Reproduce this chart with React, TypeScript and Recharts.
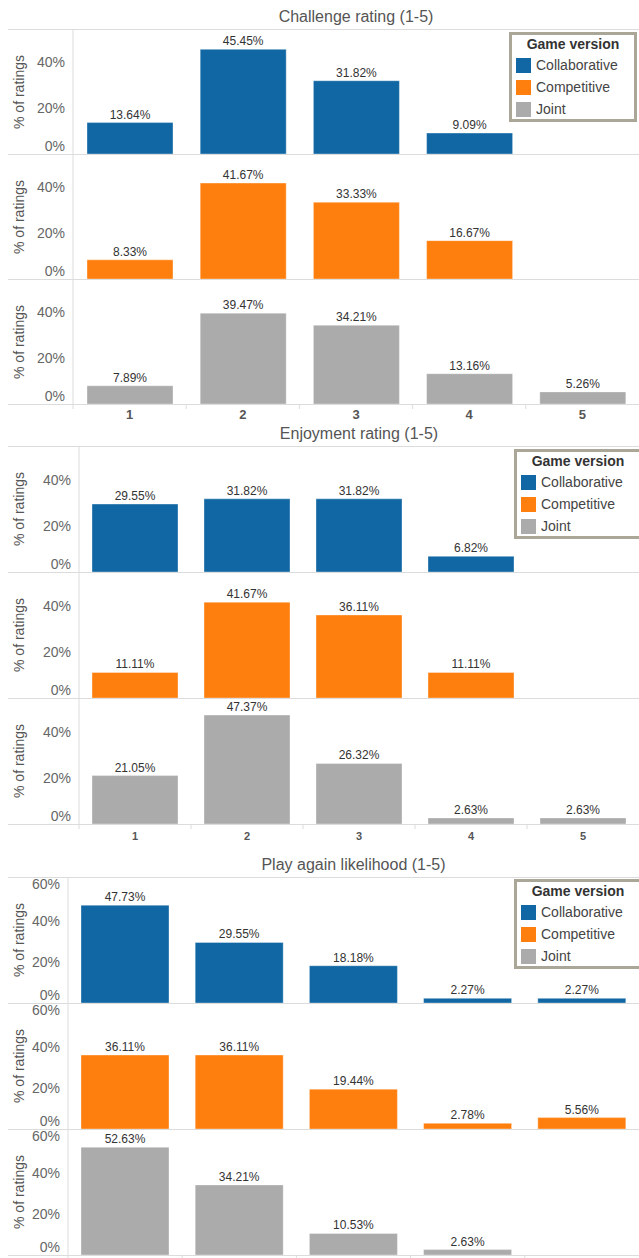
import { Bar, BarChart, LabelList, XAxis, YAxis } from "recharts";

const categories = ["1", "2", "3", "4", "5"];
const seriesNames = ["Collaborative", "Competitive", "Joint"];
const seriesColors = ["#1067a3", "#ff7f0e", "#ababab"];

// Challenge rating (1-5)
const challengeCollab = [13.64, 45.45, 31.82, 9.09, null];
const challengeComp = [8.33, 41.67, 33.33, 16.67, null];
const challengeJoint = [7.89, 39.47, 34.21, 13.16, 5.26];

// Enjoyment rating (1-5)
const enjoyCollab = [29.55, 31.82, 31.82, 6.82, null];
const enjoyComp = [11.11, 41.67, 36.11, 11.11, null];
const enjoyJoint = [21.05, 47.37, 26.32, 2.63, 2.63];

// Play again likelihood (1-5)
const playCollab = [47.73, 29.55, 18.18, 2.27, 2.27];
const playComp = [36.11, 36.11, 19.44, 2.78, 5.56];
const playJoint = [52.63, 34.21, 10.53, 2.63, null];

const ticks50 = [0, 20, 40];
const ticks60 = [0, 20, 40, 60];

const FONT = "'Liberation Sans', Arial, sans-serif";
const RIGHT = 639;
const LEFT = 8;
const GRID = "#dcdcdc";

type XCfg = { height: number; labelDy: number; fontSize: number; labels: boolean };

type PanelProps = {
  values: (number | null)[];
  color: string;
  height: number;
  axisX: number;
  domainMax: number;
  ticks: number[];
  barSize: number;
  xAxis?: XCfg;
};

function Panel({ values, color, height, axisX, domainMax, ticks, barSize, xAxis }: PanelProps) {
  const data = categories.map((c, i) => ({ rating: c, pct: values[i] }));
  const bw = (RIGHT - axisX) / categories.length;
  const chartH = height + (xAxis ? xAxis.height : 0);

  // clamp edge labels inside the panel, like the original
  const yTick = (p: any) => {
    const y = Math.max(7, Math.min(p.y, height - 8));
    return (
      <text x={p.x} y={y} dy="0.35em" textAnchor="end" fontSize={14} fill="#666" fontFamily={FONT}>
        {p.payload.value}%
      </text>
    );
  };

  const xTick = (p: any) => {
    const bx = p.x - bw / 2;
    return (
      <g>
        <line x1={bx} x2={bx} y1={p.y} y2={p.y + 5} stroke={GRID} />
        {xAxis && xAxis.labels ? (
          <text x={p.x} y={p.y + xAxis.labelDy} textAnchor="middle" fontSize={xAxis.fontSize} fontWeight="bold" fill="#555" fontFamily={FONT}>
            {p.payload.value}
          </text>
        ) : null}
      </g>
    );
  };

  return (
    <BarChart width={RIGHT - LEFT} height={chartH} data={data} margin={{ top: 0, right: 0, bottom: 0, left: 0 }}>
      <XAxis
        dataKey="rating"
        hide={!xAxis}
        height={xAxis ? xAxis.height : 0}
        axisLine={false}
        tickLine={false}
        tickSize={0}
        tickMargin={0}
        interval={0}
        tick={xTick}
      />
      <YAxis
        width={axisX - LEFT}
        domain={[0, domainMax]}
        ticks={ticks}
        interval={0}
        allowDataOverflow
        axisLine={{ stroke: GRID }}
        tickLine={false}
        tickSize={0}
        tickMargin={8}
        tick={yTick}
      />
      <Bar dataKey="pct" fill={color} stroke="#ffffff" strokeOpacity={0.35} barSize={barSize} isAnimationActive={false}>
        <LabelList
          dataKey="pct"
          position="top"
          offset={4}
          fontSize={12}
          fill="#333"
          fontFamily={FONT}
          formatter={(v: any) => (v == null ? "" : `${Number(v).toFixed(2)}%`)}
        />
      </Bar>
    </BarChart>
  );
}

function GameLegend({ x, y }: { x: number; y: number }) {
  return (
    <div
      style={{
        position: "absolute",
        left: x,
        top: y,
        width: 122,
        height: 84,
        border: "3px solid #aaa698",
        background: "#fff",
        fontFamily: FONT,
      }}
    >
      <div style={{ position: "absolute", left: 0, width: 122, top: 1, textAlign: "center", fontWeight: "bold", fontSize: 14, color: "#333" }}>
        Game version
      </div>
      {seriesNames.map((n, i) => (
        <div key={n} style={{ position: "absolute", left: 4, top: 22 + i * 22, height: 16, display: "flex", alignItems: "center" }}>
          <div style={{ width: 15, height: 15, background: seriesColors[i], marginRight: 5 }} />
          <span style={{ fontSize: 14, color: "#444" }}>{n}</span>
        </div>
      ))}
    </div>
  );
}

type SectionProps = {
  title: string;
  top: number;
  axisX: number;
  panelH: number;
  domainMax: number;
  ticks: number[];
  barSize: number;
  series: (number | null)[][];
  xAxis: XCfg;
  legend: { x: number; y: number };
};

function Section({ title, top, axisX, panelH, domainMax, ticks, barSize, series, xAxis, legend }: SectionProps) {
  return (
    <>
      <div
        style={{
          position: "absolute",
          left: axisX,
          width: RIGHT - axisX,
          top: top - 22,
          height: 20,
          lineHeight: "20px",
          textAlign: "center",
          fontSize: 16,
          color: "#555",
          fontFamily: FONT,
        }}
      >
        {title}
      </div>
      <div style={{ position: "absolute", left: LEFT, width: RIGHT - LEFT, top: top, height: 1, background: GRID }} />
      {series.map((vals, i) => {
        const y0 = top + i * panelH;
        const last = i === series.length - 1;
        return (
          <div key={i}>
            <div style={{ position: "absolute", left: LEFT, top: y0 }}>
              <Panel
                values={vals}
                color={seriesColors[i]}
                height={panelH}
                axisX={axisX}
                domainMax={domainMax}
                ticks={ticks}
                barSize={barSize}
                xAxis={last ? xAxis : undefined}
              />
            </div>
            <div style={{ position: "absolute", left: LEFT, width: RIGHT - LEFT, top: y0 + panelH, height: 1, background: GRID }} />
            <div
              style={{
                position: "absolute",
                left: 19,
                top: y0 + panelH / 2,
                transform: "translate(-50%, -50%) rotate(-90deg)",
                whiteSpace: "nowrap",
                fontSize: 14,
                color: "#555",
                fontFamily: FONT,
              }}
            >
              % of ratings
            </div>
          </div>
        );
      })}
      <GameLegend x={legend.x} y={legend.y} />
    </>
  );
}

export default function App() {
  return (
    <div style={{ position: "absolute", left: 0, top: 0, width: 639, height: 1258, overflow: "hidden", background: "#fff" }}>
      <Section
        title="Challenge rating (1-5)"
        top={29}
        axisX={73}
        panelH={125}
        domainMax={54.3}
        ticks={ticks50}
        barSize={86}
        series={[challengeCollab, challengeComp, challengeJoint]}
        xAxis={{ height: 22, labelDy: 15, fontSize: 13, labels: true }}
        legend={{ x: 509, y: 32 }}
      />
      <Section
        title="Enjoyment rating (1-5)"
        top={446}
        axisX={79}
        panelH={126}
        domainMax={54.8}
        ticks={ticks50}
        barSize={86}
        series={[enjoyCollab, enjoyComp, enjoyJoint]}
        xAxis={{ height: 22, labelDy: 16, fontSize: 11, labels: true }}
        legend={{ x: 514, y: 449 }}
      />
      <Section
        title="Play again likelihood (1-5)"
        top={877}
        axisX={68}
        panelH={126}
        domainMax={61.5}
        ticks={ticks60}
        barSize={88}
        series={[playCollab, playComp, playJoint]}
        xAxis={{ height: 6, labelDy: 16, fontSize: 11, labels: false }}
        legend={{ x: 514, y: 879 }}
      />
    </div>
  );
}
